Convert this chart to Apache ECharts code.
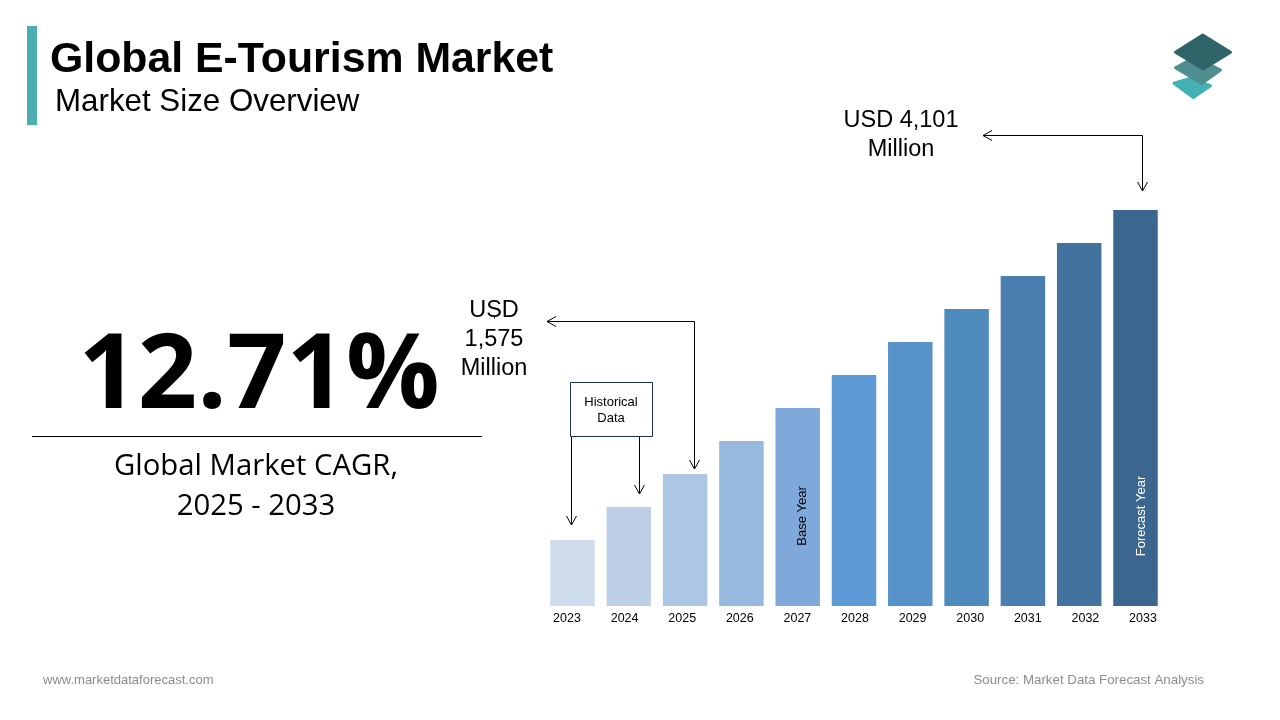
<!DOCTYPE html>
<html><head><meta charset="utf-8">
<style>html,body{margin:0;padding:0;background:#fff}#c{width:1280px;height:720px}</style>
<script src="https://cdn.jsdelivr.net/npm/echarts@6/dist/echarts.min.js"></script>
</head><body><div id="c"></div>
<script>
const years = ['2023','2024','2025','2026','2027','2028','2029','2030','2031','2032','2033'];
const barHeights = [66,99,132,165,198,231,264,297,330,363,396];
const barColors = ['#CFDCED','#BDD0E8','#ADC6E3','#98B9DF','#7FA9DA','#5E9BD6','#5792C8','#4F8ABD','#4A7EAE','#42739F','#3B668F'];

const sans = '"Liberation Sans", Arial, sans-serif';
const noto = '"Open Sans", "Noto Sans", sans-serif';
const ink = '#000';
function txt(x,y,text,size,o){o=o||{};return {type:'text',x:x,y:y,rotation:o.rot||0,z:10,style:{text:text,fill:o.fill||ink,
  font:(o.weight||'normal')+' '+size+'px '+(o.family||sans),textAlign:o.align||'center',textVerticalAlign:'middle'}};}
function line(pts,c,w){return {type:'polyline',z:9,shape:{points:pts},style:{stroke:c||'#000',lineWidth:w||1,fill:null}};}
function poly(pts,c){return {type:'polygon',z:8,shape:{points:pts},style:{fill:c,stroke:c,lineWidth:3,lineJoin:'round'}};}
function arrowDown(x,y){return line([[x-5,y-9],[x,y],[x+5,y-9]]);}
function arrowLeft(x,y){return line([[x+9,y-5],[x,y],[x+9,y+5]]);}

const graphics = [
  {type:'rect',z:8,shape:{x:27,y:26,width:10,height:99},style:{fill:'#4BAEB0'}},
  txt(50,60,'Global E-Tourism Market',42.8,{weight:'bold',align:'left'}),
  txt(55,102,'Market Size Overview',31.3,{align:'left'}),
  poly([[1190,78.5],[1210.5,85.7],[1193.3,97.5],[1174,83.3]],'#43B1B3'),
  poly([[1195,57],[1220.5,70],[1201.7,83.5],[1175.5,67.7]],'#4F8D8F'),
  poly([[1202.7,35],[1230.5,52.3],[1203.3,69],[1175.5,52.3]],'#2F6568'),
  txt(259,378,'12.71%',104,{weight:'bold',family:noto}),
  line([[32,436.5],[482,436.5]],'#000',1),
  txt(256,467,'Global Market CAGR,',29.3,{family:noto}),
  txt(256,507,'2025 - 2033',29.3,{family:noto}),
  txt(901,121,'USD 4,101',23.5),
  txt(901,150,'Million',23.5),
  line([[983,135.5],[1142.5,135.5],[1142.5,191]]),
  arrowLeft(983,135.5), arrowDown(1142.5,191),
  txt(494,311,'USD',23.5),
  txt(494,340,'1,575',23.5),
  txt(494,369,'Million',23.5),
  line([[494.5,316],[494.5,319]],'#333',1),
  line([[547,321.5],[694.5,321.5],[694.5,469]]),
  arrowLeft(547,321.5), arrowDown(694.5,469),
  {type:'rect',z:8,shape:{x:570.5,y:382.5,width:82,height:54},style:{fill:'#fff',stroke:'#1B3350',lineWidth:1}},
  txt(611,402,'Historical',13),
  txt(611,418,'Data',13),
  line([[571.5,437],[571.5,525]]), arrowDown(571.5,525),
  line([[639.5,437],[639.5,494]]), arrowDown(639.5,494),
  txt(802,516,'Base Year',13,{rot:Math.PI/2}),
  txt(1141.5,516,'Forecast Year',13,{rot:Math.PI/2,fill:'#fff'}),
  txt(43,680,'www.marketdataforecast.com',13,{align:'left',fill:'#8C8C8C'}),
  txt(1204,680,'Source: Market Data Forecast Analysis',13.3,{align:'right',fill:'#8C8C8C'})
];

const chart = echarts.init(document.getElementById('c'),null,{renderer:'canvas'});
chart.setOption({
  animation:false,
  backgroundColor:'#fff',
  grid:[
    {left:544.35,top:206,width:619.3,height:400},
    {left:538.2,top:206,width:633.6,height:400}
  ],
  xAxis:[
    {type:'category',gridIndex:0,data:years,axisLine:{show:false},axisTick:{show:false},axisLabel:{show:false}},
    {type:'category',gridIndex:1,data:years,axisLine:{show:false},axisTick:{show:false},
     axisLabel:{show:true,interval:0,margin:6,color:'#000',fontSize:12.5,fontFamily:sans}}
  ],
  yAxis:[
    {type:'value',gridIndex:0,min:0,max:400,show:false},
    {type:'value',gridIndex:1,min:0,max:400,show:false}
  ],
  series:[
    {type:'bar',xAxisIndex:0,yAxisIndex:0,barWidth:44.5,
     data:barHeights.map((v,i)=>({value:v,itemStyle:{color:barColors[i]}}))},
    {type:'bar',xAxisIndex:1,yAxisIndex:1,data:[]}
  ],
  graphic:graphics
});
</script></body></html>
